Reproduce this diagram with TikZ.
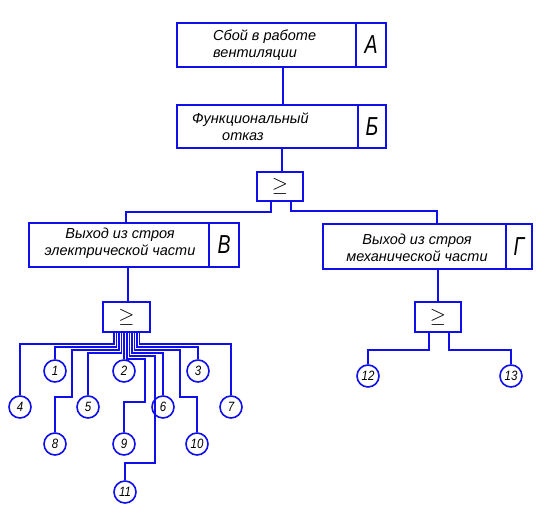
\documentclass[tikz,border=0pt]{standalone}
\usepackage{fontspec}
\newfontfamily\gost{Liberation Sans}
\newfontfamily\gostn{Liberation Sans}[FakeStretch=0.75]
\newfontfamily\gostd{Liberation Sans}[FakeStretch=0.85]
\definecolor{wire}{RGB}{15,15,235}
\begin{document}
\begin{tikzpicture}[x=1pt,y=-1pt,
  box/.style={draw=wire, line width=1.8pt, inner sep=0pt},
  txt/.style={font=\gost\itshape\fontsize{14.5}{17}\selectfont, inner sep=0pt},
  letter/.style={font=\gostn\itshape\fontsize{26}{26}\selectfont},
  gate/.style={box, font=\fontsize{20}{20}\selectfont},
  circ/.style={circle, draw=wire, line width=1.6pt, minimum size=22pt, inner sep=0pt,
    font=\gostd\itshape\fontsize{13.5}{13.5}\selectfont},
  conn/.style={draw=wire, line width=1.8pt},
  tw/.style={draw=wire, line width=1.5pt}]
\useasboundingbox (0,0) rectangle (556,517);
% boxes
\node[box, minimum width=179pt, minimum height=44pt] (nA) at (266.5,45) {};
\node[box, letter, minimum width=30pt, minimum height=44pt] (nAl) at (371,45) {А};
\node[txt, anchor=west, align=left] (nAt) at (213,45) {Сбой в работе\\вентиляции};
\node[box, minimum width=181pt, minimum height=43pt] (nB) at (267.5,126.5) {};
\node[box, letter, minimum width=28pt, minimum height=43pt] (nBl) at (372,126.5) {Б};
\node[txt, anchor=west, align=left] (nBt) at (192,127) {Функциональный\\\hspace*{30pt}отказ};
\node[box, minimum width=180pt, minimum height=44pt] (nV) at (119,245) {};
\node[box, letter, minimum width=30pt, minimum height=44pt] (nVl) at (224,245) {В};
\node[txt, align=center] (nVt) at (120,243) {Выход из строя\\электрической части};
\node[box, minimum width=183pt, minimum height=45pt] (nG) at (414.5,246.5) {};
\node[box, letter, minimum width=26pt, minimum height=45pt] (nGl) at (519,246.5) {Г};
\node[txt, align=center] (nGt) at (417,248) {Выход из строя\\механической части};
% gates
\node[gate, minimum width=46pt, minimum height=29pt] (g1) at (280,186.5) {$\geq$};
\node[gate, minimum width=47pt, minimum height=30pt] (g2) at (126.5,317) {$\geq$};
\node[gate, minimum width=46pt, minimum height=30pt] (g3) at (438,317) {$\geq$};
% circles
\node[circ] (c1) at (55,371) {1};
\node[circ] (c2) at (124,371) {2};
\node[circ] (c3) at (198,371) {3};
\node[circ] (c4) at (20,407) {4};
\node[circ] (c5) at (88,407) {5};
\node[circ] (c6) at (163,407) {6};
\node[circ] (c7) at (231,407) {7};
\node[circ] (c8) at (55,444) {8};
\node[circ] (c9) at (124,444) {9};
\node[circ] (c10) at (197,444) {10};
\node[circ] (c11) at (125,492) {11};
\node[circ] (c12) at (368,376) {12};
\node[circ] (c13) at (511,376) {13};
% junction coordinates
\coordinate (jA) at (283,0);
\coordinate (jB) at (282,0);
\coordinate (jV) at (126,0);
\coordinate (jG) at (437,0);
\coordinate (jV2) at (128,0);
\coordinate (k8) at (72,397);
\coordinate (k10) at (180,397);
\coordinate (k9) at (145,402);
\coordinate (k11) at (155,463);
% upper connectors
\draw[conn] (nA.south -| jA) -- (nB.north -| jA);
\draw[conn] (nB.south -| jB) -- (g1.north -| jB);
\draw[conn] ([xshift=-9pt]g1.south) -- ++(0,10) -| (nV.north -| jV);
\draw[conn] ([xshift=11pt]g1.south) -- ++(0,9) -| (nG.north -| jG);
\draw[conn] (nV.south -| jV2) -- (g2.north -| jV2);
\draw[conn] (nG.south -| g3.north) -- (g3.north);
% right tree
\draw[conn] ([xshift=-9pt]g3.south) -- ++(0,17) -| (c12.north);
\draw[conn] ([xshift=11pt]g3.south) -- ++(0,17) -| (c13.north);
% left tree
\draw[tw] ([xshift=-12.5pt]g2.south) -- ++(0,11) -| (c4.north);
\draw[tw] ([xshift=-10pt]g2.south) -- ++(0,14) -| (c1.north);
\draw[tw] ([xshift=-7.5pt]g2.south) -- ++(0,17) -| (k8) -| (c8.north);
\draw[tw] ([xshift=-5pt]g2.south) -- ++(0,20) -| (c5.north);
\draw[tw] (g2.south -| c2.north) -- (c2.north);
\draw[tw] ([xshift=0.5pt]g2.south) -- ++(0,26) -| (k9) -| (c9.north);
\draw[tw] ([xshift=3pt]g2.south) -- ++(0,23) -| (k11) -| (c11.north);
\draw[tw] ([xshift=5.5pt]g2.south) -- ++(0,20) -| (c6.north);
\draw[tw] ([xshift=8pt]g2.south) -- ++(0,17) -| (k10) -| (c10.north);
\draw[tw] ([xshift=10.5pt]g2.south) -- ++(0,14) -| (c3.north);
\draw[tw] ([xshift=13pt]g2.south) -- ++(0,11) -| (c7.north);
\end{tikzpicture}
\end{document}
